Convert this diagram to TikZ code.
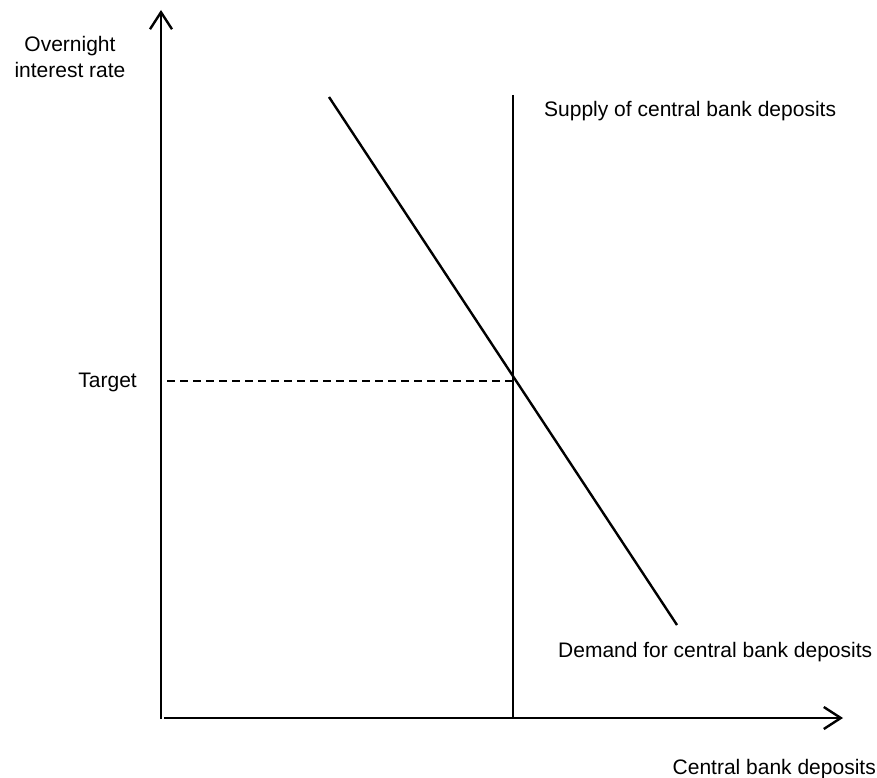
\documentclass[tikz,border=0pt]{standalone}
\usepackage{fontspec}
\setmainfont{Liberation Sans}
\usetikzlibrary{arrows.meta}
\begin{document}
\begin{tikzpicture}[x=1pt,y=-1pt,line width=2.4pt,
  lbl/.style={font=\fontsize{21}{26}\selectfont,inner sep=0pt},
  axisarrow/.style={line width=2.4pt,-{Straight Barb[length=17pt,width=22pt,line width=2.4pt]}},
  curve/.style={line width=2.4pt},
  guide/.style={line width=1.8pt,dash pattern=on 8pt off 5pt}]
\useasboundingbox (0,0) rectangle (877,778);
\coordinate (O) at (161,719);
\coordinate (ytop) at (161,10);
\coordinate (xstart) at (164,718);
\coordinate (xend) at (843,718);
\coordinate (stop) at (513,95);
\coordinate (sbot) at (513,718);
\coordinate (dtop) at (329,97);
\coordinate (dbot) at (677,625);
\coordinate (dl) at (167,381);
\coordinate (eq) at (513,381);
\draw[axisarrow] (O) -- (ytop);
\draw[axisarrow] (xstart) -- (xend);
\draw[curve] (stop) -- (sbot);
\draw[curve] (dtop) -- (dbot);
\draw[guide] (dl) -- (eq);
\node[lbl,align=center] (ylab) at (70,57) {Overnight\\interest rate};
\node[lbl,anchor=east] (target) at (138,382) {Target};
\node[lbl,anchor=base west] (supply) at (543,117) {Supply of central bank deposits};
\node[lbl,anchor=base west] (demand) at (557,657) {Demand for central bank deposits};
\node[lbl,anchor=base east] (xlab) at (877,774) {Central bank deposits};
\end{tikzpicture}
\end{document}
